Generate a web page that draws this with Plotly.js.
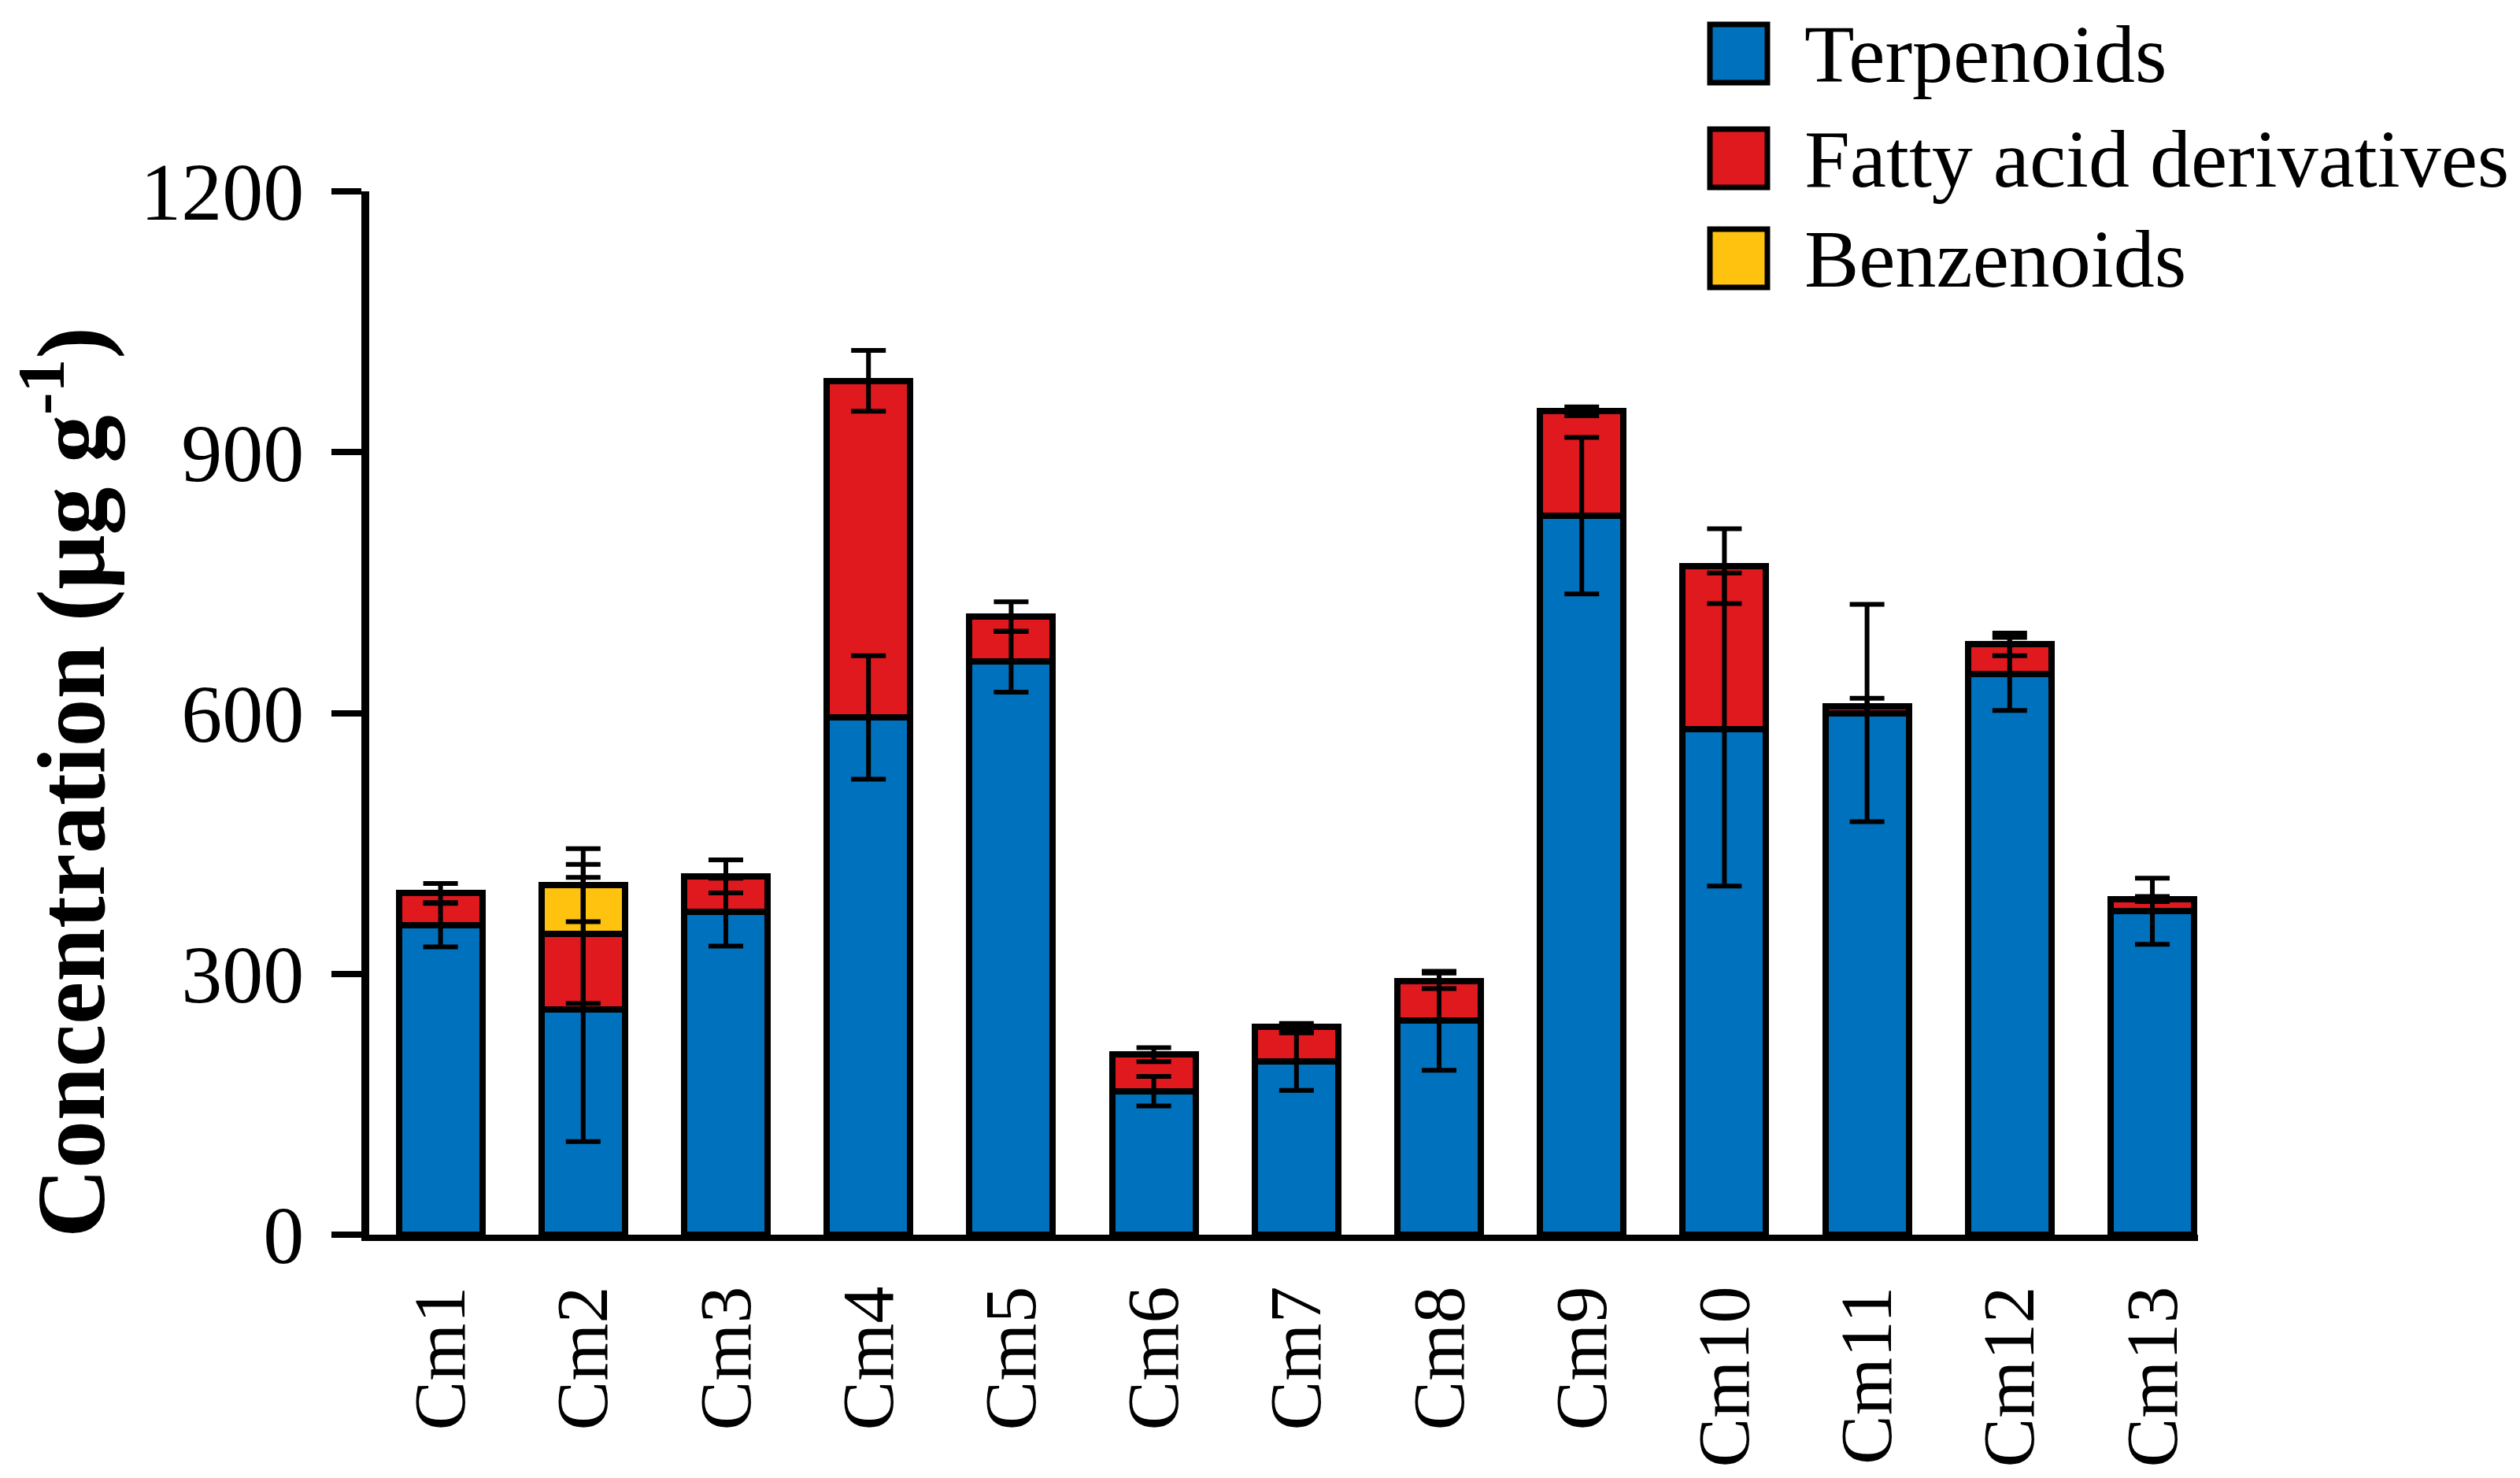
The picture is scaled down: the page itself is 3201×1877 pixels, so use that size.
<!DOCTYPE html>
<html>
<head>
<meta charset="utf-8">
<script src="https://cdn.plot.ly/plotly-3.0.1.min.js"></script>
<style>
  body { margin: 0; background: #fff; }
  #chart { width: 3201px; height: 1877px; }
</style>
</head>
<body>
<div id="chart"></div>
<script>
var categories = ['Cm1', 'Cm2', 'Cm3', 'Cm4', 'Cm5', 'Cm6', 'Cm7', 'Cm8', 'Cm9', 'Cm10', 'Cm11', 'Cm12', 'Cm13'];

var terpenoids = [356, 259, 371, 595, 659, 165, 199, 246, 827, 581, 600, 645, 372];
var terpenoidsErr = [25, 152, 39, 71, 35, 17, 33, 57, 90, 180, 125, 42, 38];

var fattyAcids = [37, 87, 41, 387, 52, 42, 40, 46, 120, 188, 8, 34, 14];
var fattyAcidsErr = [11, 80, 19, 35, 17, 8, 4, 9, 5, 43, 9, 13, 3];

var benzenoids = [0, 56, 0, 0, 0, 0, 0, 0, 0, 0, 0, 0, 0];
var benzenoidsErr = [0, 42, 0, 0, 0, 0, 0, 0, 0, 0, 0, 0, 0];

var seriesNames = ['Terpenoids', 'Fatty acid derivatives', 'Benzenoids'];
var seriesColors = ['#0071BC', '#E0191F', '#FFC20E'];

var W = 3201, H = 1877;
var M = { l: 469, r: 409, t: 243, b: 309 };
var plotW = W - M.l - M.r, plotH = H - M.t - M.b;
function px(x) { return (x - M.l) / plotW; }
function py(y) { return (H - M.b - y) / plotH; }

var serif = 'Liberation Serif, Times New Roman, serif';
var values = [terpenoids, fattyAcids, benzenoids];
var errors = [terpenoidsErr, fattyAcidsErr, benzenoidsErr];

var data = [];
values.forEach(function (v, i) {
    data.push({
        type: 'bar',
        name: seriesNames[i],
        x: categories,
        y: v,
        marker: { color: seriesColors[i], line: { color: '#000', width: 8 } }
    });
});

// error bars drawn on top of every bar, at the top of each stacked segment
var running = categories.map(function () { return 0; });
values.forEach(function (v, i) {
    running = running.map(function (r, k) { return r + v[k]; });
    data.push({
        type: 'scatter',
        mode: 'markers',
        x: categories,
        y: running.map(function (r, k) { return v[k] > 0 ? r : null; }),
        marker: { size: 1, opacity: 0 },
        showlegend: false,
        hoverinfo: 'skip',
        error_y: { type: 'data', array: errors[i], visible: true, color: '#000', thickness: 6, width: 22 }
    });
});

var shapes = [];
var annotations = [];
var rowY = [68, 201, 328];
seriesNames.forEach(function (name, i) {
    shapes.push({
        type: 'rect', xref: 'paper', yref: 'paper',
        x0: px(2172), x1: px(2245), y0: py(rowY[i] - 37), y1: py(rowY[i] + 37),
        fillcolor: seriesColors[i], line: { color: '#000', width: 7 }
    });
    annotations.push({
        xref: 'paper', yref: 'paper', x: px(2290), y: py(rowY[i]),
        xanchor: 'left', yanchor: 'middle', showarrow: false,
        text: name, font: { family: serif, size: 104, color: '#000' }
    });
});

annotations.push({
    xref: 'paper', yref: 'paper', x: px(82), y: py(994),
    xanchor: 'center', yanchor: 'middle', showarrow: false, textangle: -90,
    text: '<b>Concentration (μg g<sup>-1</sup>)</b>',
    font: { family: serif, size: 122, color: '#000' }
});

var layout = {
    width: W, height: H,
    margin: M,
    barmode: 'stack',
    bargap: 0.415,
    showlegend: false,
    paper_bgcolor: '#fff',
    plot_bgcolor: '#fff',
    font: { family: serif, color: '#000' },
    xaxis: {
        type: 'category',
        range: [-0.5, 12.32],
        showline: true, linecolor: '#000', linewidth: 8,
        showgrid: false, zeroline: false,
        ticks: '', tickangle: -90,
        ticklabelstandoff: 20,
        tickfont: { family: serif, size: 94, color: '#000' }
    },
    yaxis: {
        range: [0, 1200],
        tickvals: [0, 300, 600, 900, 1200],
        showline: true, linecolor: '#000', linewidth: 10,
        showgrid: false, zeroline: false,
        ticks: 'outside', ticklen: 38, tickwidth: 8, tickcolor: '#000',
        ticklabelstandoff: 14,
        tickfont: { family: serif, size: 104, color: '#000' }
    },
    shapes: shapes,
    annotations: annotations
};

Plotly.newPlot('chart', data, layout, { displayModeBar: false, staticPlot: true });
</script>
</body>
</html>
